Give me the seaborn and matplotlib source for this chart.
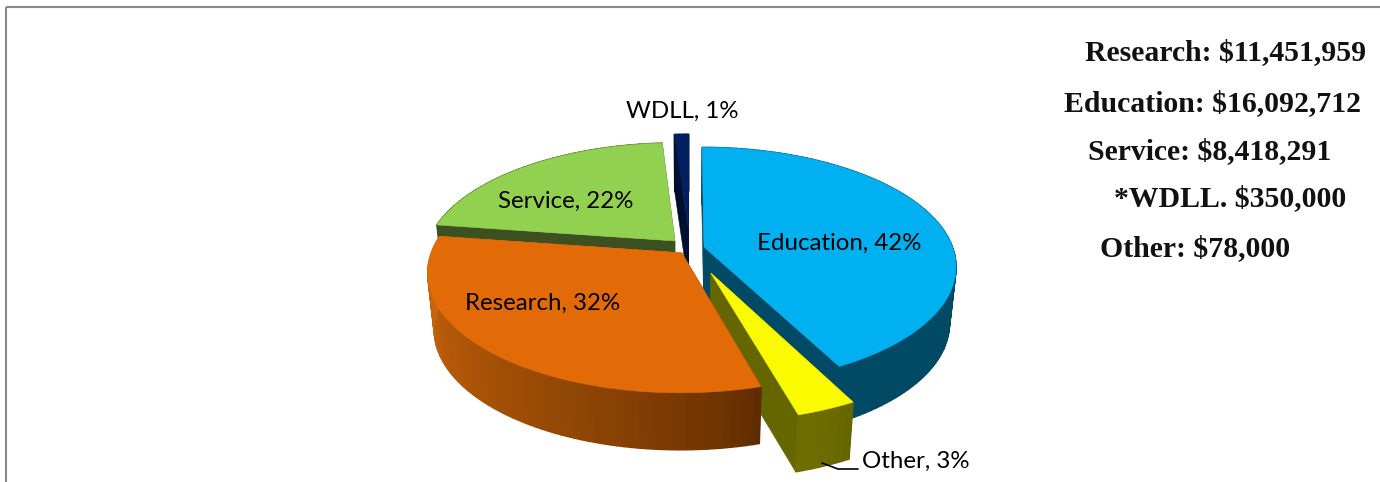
import numpy as np
import matplotlib
matplotlib.use("Agg")
import matplotlib.pyplot as plt
import matplotlib.colors as mc
import seaborn as sns

# ---- data ----
categories = ["Education", "Other", "Research", "Service", "WDLL"]
shares = [42.4, 3.2, 31.7, 21.6, 1.1]          # clockwise from 12 o'clock
pct_labels = ["42%", "3%", "32%", "22%", "1%"]
amount_lines = ["Research: $11,451,959", "Education: $16,092,712",
                "Service: $8,418,291", "*WDLL. $350,000", "Other: $78,000"]

# ---- style ----
explode = [0.058, 0.22, 0.05, 0.09, 0.17]
top_colors = sns.color_palette(["#00b0f0", "#fafa00", "#e26b08", "#92d050", "#002060"])
wall_far = ["#004a66", "#6e6e00", "#d2690c", "#3d5021", "#000f30"]    # wall colour at sweep end
wall_near = ["#004a66", "#666600", "#5f2c00", "#3d5021", "#000f30"]   # wall colour at sweep start
draw_order = [4, 3, 0, 1, 2]
label_pos = {"Education": (839, 243.5), "Research": (543, 303.5), "Service": (566, 201.5),
             "WDLL": (682, 111)}
amount_pos = [(1085, 53), (1064, 104), (1088, 152), (1114, 199), (1100, 249)]

CX, CY = 690.0, 248.5
RX, RY, K = 249.0, 116.0, 0.16
DEPTH, BOTTOM_SCALE = 57.0, 0.975

sns.set_theme(style="white")
plt.rcParams["font.family"] = ["Lato", "DejaVu Sans"]

fig = plt.figure(figsize=(13.8, 4.82), dpi=100)
ax = fig.add_axes([0, 0, 1, 1])
ax.set_xlim(0, 1380)
ax.set_ylim(482, 0)
ax.axis("off")


def top(u, v):
    d = 1 + K * v
    return CX + RX * u / d, CY - RY * v / d


def bottom(u, v):
    x, y = top(u, v)
    return CX + (x - CX) * BOTTOM_SCALE, y + DEPTH


def quad(p0, p1, color, z, lw=0.4):
    (u0, v0), (u1, v1) = p0, p1
    a, b = top(u0, v0), top(u1, v1)
    c, d = bottom(u1, v1), bottom(u0, v0)
    ax.fill([a[0], b[0], c[0], d[0]], [a[1], b[1], c[1], d[1]],
            facecolor=color, edgecolor=color, linewidth=lw, zorder=z)


edges = np.concatenate([[0], np.cumsum(shares)]) / np.sum(shares) * 2 * np.pi
z = 2
for i in draw_order:
    t0, t1 = edges[i], edges[i + 1]
    mid = (t0 + t1) / 2
    ou, ov = explode[i] * np.sin(mid), explode[i] * np.cos(mid)
    n = max(3, int(np.degrees(t1 - t0) / 1.5))
    th = np.linspace(t0, t1, n + 1)
    us, vs = ou + np.sin(th), ov + np.cos(th)
    # radial cut faces
    quad((ou, ov), (us[0], vs[0]), wall_near[i], z)
    quad((ou, ov), (us[-1], vs[-1]), wall_far[i] if i != 1 else wall_near[i], z)
    # outer wall: solid underlay, then strips shaded along the sweep
    c0, c1 = np.array(mc.to_rgb(wall_near[i])), np.array(mc.to_rgb(wall_far[i]))
    under = [top(a, b) for a, b in zip(us, vs)] + [bottom(a, b) for a, b in zip(us[::-1], vs[::-1])]
    ax.fill(*zip(*under), facecolor=tuple((c0 + c1) / 2), edgecolor="none", zorder=z + 0.05)
    for j in range(n):
        f = (j / max(n - 1, 1)) ** 0.75
        quad((us[j], vs[j]), (us[j + 1], vs[j + 1]), tuple(c0 + (c1 - c0) * f), z + 0.1, lw=1.0)
    # top face
    pts = [top(ou, ov)] + [top(a, b) for a, b in zip(us, vs)]
    ax.fill(*zip(*pts), facecolor=top_colors[i], edgecolor=top_colors[i],
            linewidth=0.4, zorder=z + 0.2)
    z += 1

# slice labels
label_px = 24.0
for cat, pct in zip(categories, pct_labels):
    text = f"{cat}, {pct}"
    if cat in label_pos:
        ax.text(*label_pos[cat], text, ha="center", va="center", color="black",
                fontsize=label_px * 0.72, zorder=20)
ax.text(862, 461, "Other, 3%", ha="left", va="center", color="black",
        fontsize=label_px * 0.72, zorder=20)
ax.plot([822, 838, 858], [463, 469, 469], color="black", lw=1.2, zorder=20)

# dollar amounts
for line, (x, y) in zip(amount_lines, amount_pos):
    ax.text(x, y, line, ha="left", va="center", color="#111111", fontweight="bold",
            family=["Liberation Serif"], fontsize=29.7 * 0.72, zorder=20)

# frame
ax.plot([0.0043, 0.0043], [0, 0.986], color="#8a8a8a", lw=1.5, transform=ax.transAxes,
        solid_capstyle="butt", clip_on=False, zorder=30)
ax.plot([0.0043, 1], [0.986, 0.986], color="#8a8a8a", lw=1.5, transform=ax.transAxes,
        solid_capstyle="butt", clip_on=False, zorder=30)

fig.savefig("out.png", dpi=100)
